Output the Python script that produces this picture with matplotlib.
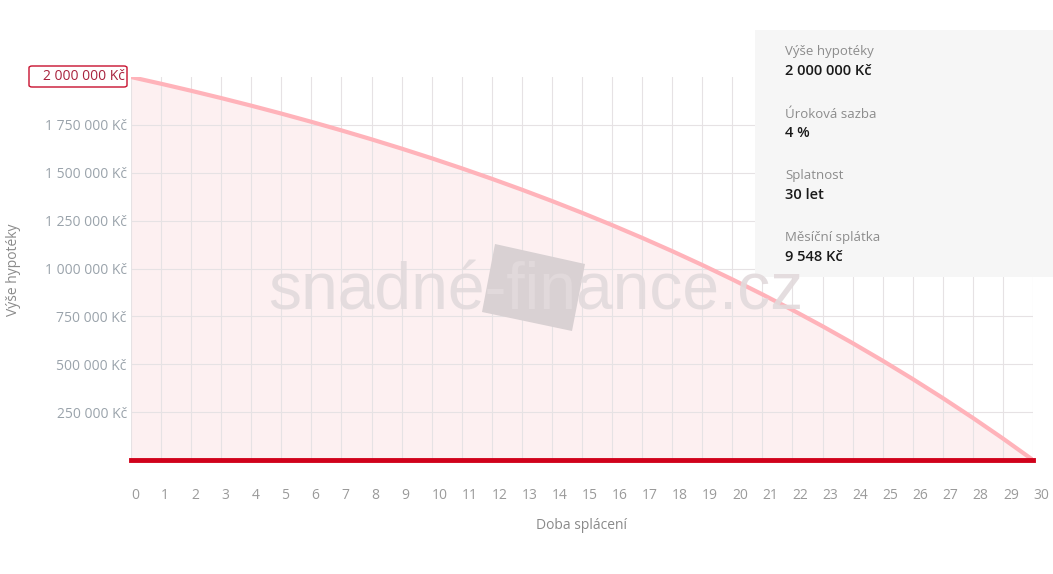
import matplotlib
matplotlib.use('Agg')
import matplotlib.pyplot as plt
from matplotlib.patches import Polygon, FancyBboxPatch

plt.rcParams['font.family'] = ['Open Sans', 'DejaVu Sans']

# remaining balance at the end of each year
years = list(range(0, 31))
balance = [2000000, 1964779, 1928124, 1889976, 1850273, 1808949, 1765946,
           1721189, 1674609, 1626131, 1575680, 1523171, 1468523, 1411648,
           1352456, 1290857, 1226747, 1160024, 1090580, 1018309, 943093,
           864815, 783348, 698557, 610313, 518477, 422901, 323429, 219905,
           112160, 0]

y_ticks = [250000, 500000, 750000, 1000000, 1250000, 1500000, 1750000]
y_tick_labels = ['250 000 Kč', '500 000 Kč', '750 000 Kč', '1 000 000 Kč',
                 '1 250 000 Kč', '1 500 000 Kč', '1 750 000 Kč']
top_label = '2 000 000 Kč'

info_labels = ['Výše hypotéky', 'Úroková sazba', 'Splatnost', 'Měsíční splátka']
info_values = ['2 000 000 Kč', '4 %', '30 let', '9 548 Kč']

W, H = 1053, 574
fig = plt.figure(figsize=(W / 100, H / 100), dpi=100)
ax = fig.add_axes([131 / W, 1 - 460 / H, (1033 - 131) / W, (460 - 77) / H])


def px(x, y):
    # pixel position (from top-left) -> figure fraction
    return (x / W, 1 - y / H)


ax.set_xlim(0, 30)
ax.set_ylim(0, 2000000)

# grid
for x in years:
    ax.axvline(x, color='#e6e2e4', lw=0.8, zorder=1)
for y in y_ticks:
    ax.axhline(y, color='#e6e2e4', lw=0.8, zorder=1)

ax.fill_between(years, balance, 0, color='#fdf0f1', zorder=0)
ax.plot(years, balance, color='#ffb3ba', lw=3, zorder=4, solid_capstyle='round')
ax.plot([0, 30], [0, 0], color='#d0021b', lw=3.5, zorder=5, clip_on=False)

for s in ax.spines.values():
    s.set_visible(False)
ax.set_xticks(years)
ax.set_xticklabels([str(x) for x in years], ha='left')
ax.tick_params(axis='x', length=0, pad=20, labelsize=10, colors='#9a9a9a')
ax.set_yticks(y_ticks)
ax.set_yticklabels(y_tick_labels)
ax.tick_params(axis='y', length=0, pad=3, labelsize=10, colors='#9aa3ab')

# highlighted top value
hl = FancyBboxPatch(px(29, 87), 98 / W, 21 / H, transform=fig.transFigure,
                    boxstyle='round,pad=0,rounding_size=0.003', fc='white',
                    ec='#c8102e', lw=1, zorder=10)
fig.patches.append(hl)
fig.text(*px(125, 77), top_label, ha='right', va='center', fontsize=10,
         color='#a8223d', zorder=11)

ax.set_xlabel('Doba splácení', fontsize=10, color='#8a8a8a', labelpad=11)
fig.text(*px(14, 270), 'Výše hypotéky', rotation=90, ha='center', va='center',
         fontsize=10, color='#8a8a8a')

# info box
box = plt.Rectangle(px(755, 277), (W - 755) / W, 247 / H,
                    transform=fig.transFigure, fc='#f6f6f6', ec='none', zorder=8)
fig.patches.append(box)
for i, (lab, val) in enumerate(zip(info_labels, info_values)):
    y0 = 52 + i * 62
    fig.text(*px(785, y0), lab, ha='left', va='center', fontsize=9.5,
             color='#8c8c8c', zorder=9)
    fig.text(*px(785, y0 + 19), val, ha='left', va='center', fontsize=10.5,
             color='#1a1a1a', fontweight='semibold', zorder=9)

# watermark
wm = Polygon([px(495, 244), px(585, 264), px(572, 331), px(482, 312)], closed=True,
             transform=fig.transFigure, fc='#d9d1d3', ec='none', zorder=12)
fig.patches.append(wm)
fig.text(*px(268, 310), 'snadné-finance.cz', ha='left', va='baseline',
         fontsize=47.5, family='Liberation Sans', color='#e2dadc', alpha=0.9,
         zorder=13)

fig.savefig('out.png', dpi=100)
